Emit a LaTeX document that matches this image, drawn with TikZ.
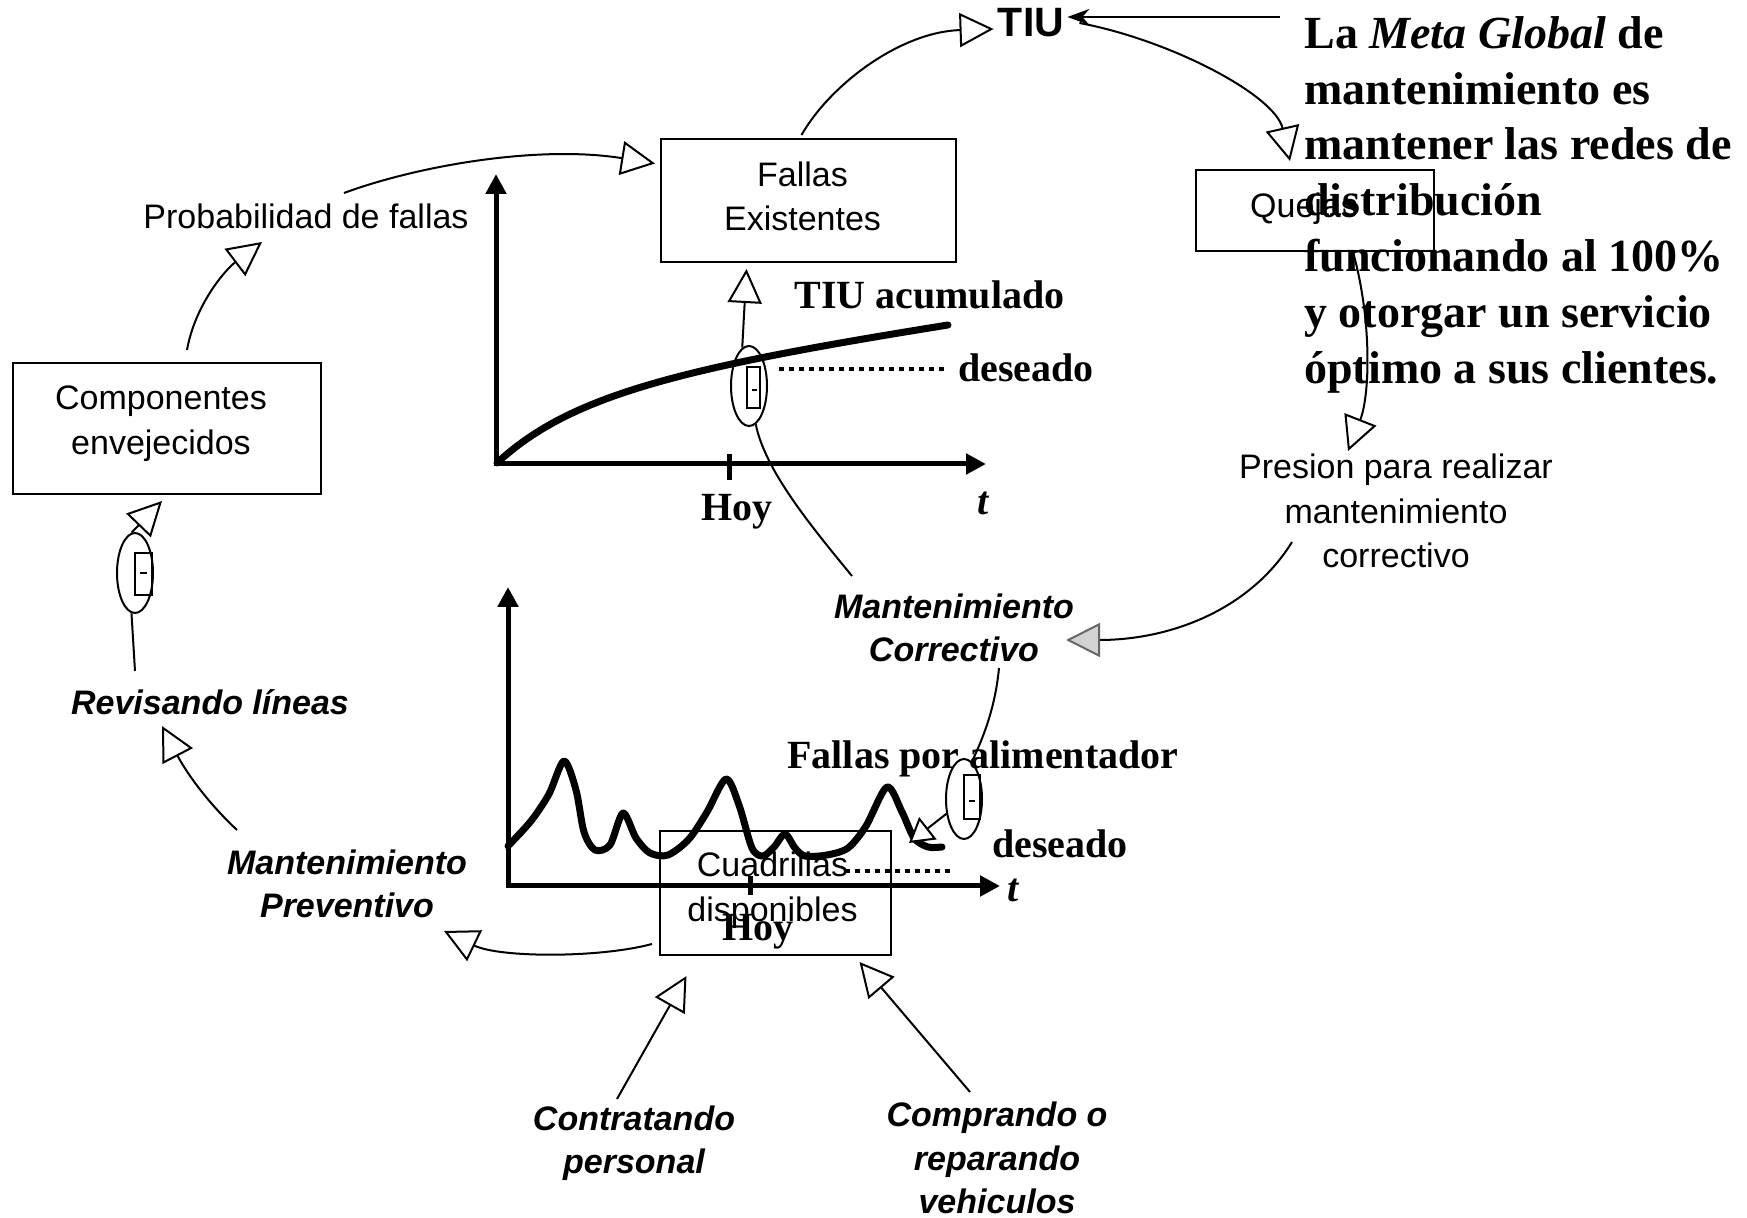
\documentclass[tikz,border=0pt]{standalone}
\usepackage{fontspec}
\setmainfont{Liberation Serif}
\setsansfont{Liberation Sans}
\usetikzlibrary{arrows.meta,calc,shapes.geometric}
\newcommand\sansfs{\sffamily\fontsize{17}{22.3}\selectfont}
\newcommand\bisans{\sffamily\bfseries\itshape\fontsize{17}{21.75}\selectfont}
\newcommand\tbold{\rmfamily\bfseries\fontsize{20}{24}\selectfont}
\newcommand\metafs{\rmfamily\bfseries\fontsize{23}{27.9}\selectfont}
\begin{document}
\begin{tikzpicture}[x=0.5pt,y=-0.5pt,
  box/.style 2 args={draw,line width=1pt,minimum width=#1*0.5pt,minimum height=#2*0.5pt,inner sep=0pt},
  lbl/.style={inner sep=0pt,align=center},
  conn/.style={line width=1pt},
  tri/.style={conn,-{Triangle[length=17pt,width=17pt,fill=white]}},
  axis/.style={line width=2.5pt,{Triangle[length=10pt,width=10pt]}-{Triangle[length=10pt,width=10pt]}},
  curvep/.style={line width=3.5pt,line cap=round,line join=round},
  dotl/.style={line width=2pt,dash pattern=on 2.5pt off 2.5pt},
  valve/.style={draw,ellipse,line width=1pt,minimum width=18pt,minimum height=40pt,inner sep=0pt},
  inner/.style={line width=0.8pt}]
\useasboundingbox (0,0) rectangle (1747,1218);

% stocks
\node[box={295}{123}] (fe) at (808.5,200.5) {};
\node[lbl,font=\sansfs] (fe-t) at ($(fe)+(-6,-4)$) {Fallas\\Existentes};
\node[box={308}{131}] (ce) at (167,428.5) {};
\node[lbl,font=\sansfs] (ce-t) at ($(ce)+(-6,-5)$) {Componentes\\envejecidos};
\node[box={238}{81}] (qu) at (1315,210.5) {};
\node[lbl,font=\sansfs] (qu-t) at ($(qu)+(-11,-2)$) {Quejas};
\node[box={231}{124}] (cd) at (775.5,893) {};
\node[lbl,font=\sansfs] (cd-t) at ($(cd)+(-3,-3)$) {Cuadrillas\\disponibles};

% texts
\node[lbl,font=\sffamily\bfseries\fontsize{20.5}{24}\selectfont] (tiu) at (1031,23) {TIU};
\node[lbl,font=\metafs,align=left,anchor=north west] (meta) at (1304,16)
  {La \textit{Meta Global} de\\mantenimiento es\\mantener las redes de\\distribución\\funcionando al 100\%\\y otorgar un servicio\\óptimo a sus clientes.};
\node[lbl,font=\sansfs] (pf) at (306,216) {Probabilidad de fallas};
\node[lbl,font=\sansfs] (pres) at (1396,511) {Presion para realizar\\mantenimiento\\correctivo};
\node[lbl,font=\bisans] (mc) at (954,628) {Mantenimiento\\Correctivo};
\node[lbl,font=\bisans] (rl) at (210,702) {Revisando líneas};
\node[lbl,font=\bisans] (mp) at (347,884) {Mantenimiento\\Preventivo};
\node[lbl,font=\bisans] (cp) at (634,1143) {Contratando\\personal};
\node[lbl,font=\bisans] (crv) at (997,1158) {Comprando o\\reparando\\vehiculos};

% plot labels
\node[lbl,font=\tbold,anchor=base west] (tiua) at (794,309) {TIU acumulado};
\node[lbl,font=\tbold,anchor=base west] (des1) at (958,382) {deseado};
\node[lbl,font=\tbold,anchor=base] (hoy1) at (737,521) {Hoy};
\node[lbl,font=\tbold\itshape,anchor=base] (t1) at (983,515) {t};
\node[lbl,font=\tbold,anchor=base west] (fpa) at (787,769) {Fallas por alimentador};
\node[lbl,font=\tbold,anchor=base west] (des2) at (992,858) {deseado};
\node[lbl,font=\tbold,anchor=base] (hoy2) at (758,941) {Hoy};
\node[lbl,font=\tbold\itshape,anchor=base] (t2) at (1013,902) {t};

% top plot
\draw[axis] (496,174) -- (496,464) -- (986,464);
\draw[line width=2.5pt] (729,454) -- (729,480);
\draw[curvep] (497,463) .. controls (570,395) and (680,368) .. (948,325);
\draw[dotl] (779,369) -- (944,369);

% bottom plot
\draw[axis] (508,587) -- (508,886) -- (1000,886);
\draw[line width=2.5pt] (750,876) -- (750,895);
\draw[curvep] plot[smooth] coordinates {(508,846) (531,821) (549,794) (564,761) (576,790) (584,832) (595,850) (610,845) (623,813) (636,838) (650,853) (668,855) (689,839) (707,812) (726,779) (739,805) (752,848) (763,856) (774,847) (785,834) (795,848) (805,856) (827,855) (848,848) (866,826) (887,787) (902,812) (914,838) (928,847) (942,847)};
\draw[dotl] (845,871) -- (954,871);

% valves
\node[valve] (v1) at (749,386) {};
\draw[inner] ($(v1)+(-2,-19)$) rectangle ($(v1)+(11,22)$);
\draw[inner] ($(v1)+(3,4)$) -- ++(5,0);
\node[valve] (v2) at (964,799) {};
\draw[inner] ($(v2)+(0,-24)$) rectangle ($(v2)+(16,20)$);
\draw[inner] ($(v2)+(5,2)$) -- ++(6,0);
\node[valve] (v3) at (135,573) {};
\draw[inner] ($(v3)+(0,-20)$) rectangle ($(v3)+(17,22)$);
\draw[inner] ($(v3)+(5,0)$) -- ++(7,0);

% connectors
\draw[tri] ($(ce.north)+(20,-12)$) .. controls (195,305) and (225,270) .. ($(pf.center)+(-44,26)$);
\draw[tri] ($(pf.center)+(38,-23)$) .. controls (420,165) and (540,145) .. ($(fe.west)+(-5,-37)$);
\draw[tri] ($(fe.north)+(-7,-3)$) .. controls (830,85) and (900,32) .. ($(tiu.west)+(-4,6)$);
\draw[tri] ($(tiu.east)+(15,0)$) .. controls (1170,40) and (1275,95) .. ($(qu.north)+(-25,-8)$);
\draw[tri] ($(qu.south)+(38,0)$) .. controls (1372,320) and (1370,395) .. ($(pres.center)+(-48,-60)$);
\draw[conn,-{Triangle[length=17pt,width=17pt,fill=gray!35,color=gray!80!black]}] ($(pres.center)+(-104,31)$) .. controls (1250,610) and (1170,640) .. ($(mc.center)+(112,12)$);
\draw[conn] ($(mc.center)+(-102,-52)$) .. controls (810,525) and (765,470) .. (v1.-80);
\draw[tri] (v1.100) -- ($(fe.south)+(-62,6)$);
\draw[conn] ($(mc.center)+(45,40)$) .. controls (995,710) and (982,740) .. (v2.78);
\draw[conn,-{Triangle[length=12pt,width=14pt,fill=white]}] (v2.220) -- ($(cd.east)+(17,-50)$);
\draw[tri] ($(cd.south west)+(-7,-12)$) .. controls (600,958) and (500,958) .. ($(mp.center)+(97,47)$);
\draw[tri] ($(mp.center)+(-110,-54)$) .. controls (205,800) and (185,770) .. ($(rl.center)+(-48,24)$);
\draw[conn] ($(rl.center)+(-75,-31)$) -- (v3.-95);
\draw[tri] (v3.95) -- ($(ce.south)+(-5,6)$);
\draw[tri] ($(cp.center)+(-17,-44)$) -- ($(cd.south)+(-89,20)$);
\draw[tri] ($(crv.center)+(-27,-66)$) -- ($(cd.south)+(84,6)$);
\draw[conn,-{Stealth[length=11pt,width=8pt]}] ($(meta.north west)+(-24,1)$) -- ($(tiu.east)+(3,-6)$);
\end{tikzpicture}
\end{document}
